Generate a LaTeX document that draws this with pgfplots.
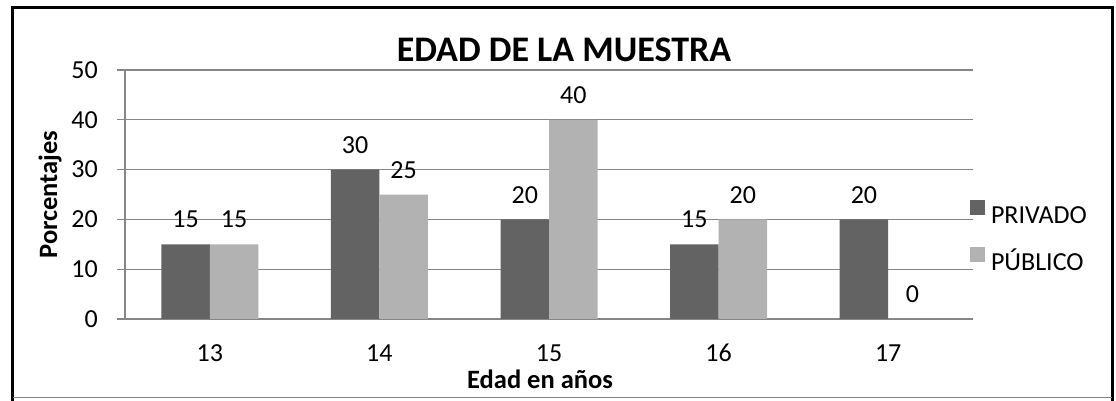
\documentclass[border=0pt]{standalone}
\usepackage{pgfplots}
\pgfplotsset{compat=1.18}
\usepackage{fontspec}
\setmainfont{Carlito}
\definecolor{darkbar}{RGB}{99,99,99}
\definecolor{lightbar}{RGB}{178,178,178}
\definecolor{gridgray}{RGB}{134,134,134}
\begin{document}
\begin{tikzpicture}
\useasboundingbox (-125pt,-82pt) rectangle (991pt,319pt);
\begin{axis}[
  at={(0pt,0pt)}, anchor=south west,
  scale only axis, width=848pt, height=249pt,
  ybar=0pt, bar width=48.5pt,
  xmin=-0.5, xmax=4.5, ymin=0, ymax=50,
  enlargelimits=false,
  xtick=data, xticklabels={13,14,15,16,17},
  ytick={0,10,20,30,40,50},
  axis lines*=left,
  ymajorgrids,
  grid style={color=gridgray, line width=1.2pt},
  axis line style={color=gridgray, line width=1.2pt},
  xtick style={draw=none},
  ytick style={color=gridgray, line width=1.2pt},
  tick align=outside, major tick length=8pt,
  /pgf/number format/assume math mode=true,
  tick label style={font=\fontsize{26}{30}\selectfont, text=black},
  xticklabel style={inner sep=0pt, anchor=base, yshift=-35pt},
  yticklabel style={inner sep=0pt, anchor=east, xshift=-19pt},
  nodes near coords,
  every node near coord/.append style={font=\fontsize{26}{30}\selectfont, text=black, anchor=south, inner sep=0pt, yshift=16pt},
  legend cell align=left,
  legend style={draw=none, fill=none, inner sep=0pt, outer sep=0pt,
    at={(rel axis cs:0.99646,0.337)}, anchor=west,
    row sep=24pt, column sep=6pt,
    font=\fontsize{26}{30}\selectfont,
    nodes={inner sep=0pt, text height=17pt, text depth=0pt}},
  legend image code/.code={\fill[#1] (0pt,0pt) rectangle (15pt,15pt);},
]
\addplot[fill=darkbar, draw=none] coordinates {(0,15) (1,30) (2,20) (3,15) (4,20)};
\addplot[fill=lightbar, draw=none] coordinates {(0,15) (1,25) (2,40) (3,20) (4,0)};
\legend{PRIVADO, PÚBLICO}
\end{axis}
\node[anchor=base, font=\fontsize{36}{40}\selectfont\bfseries] at (439pt,257pt) {EDAD DE LA MUESTRA};
\node[anchor=base, font=\fontsize{26.5}{30}\selectfont\bfseries] at (415pt,-70pt) {Edad en años};
\node[rotate=90, font=\fontsize{26.5}{30}\selectfont\bfseries] at (-75pt,124.5pt) {Porcentajes};
\draw[black, line width=3pt] (-112pt,-82pt) -- (-112pt,311pt) -- (987pt,311pt) -- (987pt,-82pt);
\draw[gridgray, line width=1pt] (-112pt,-79pt) -- (987pt,-79pt);
\end{tikzpicture}
\end{document}
